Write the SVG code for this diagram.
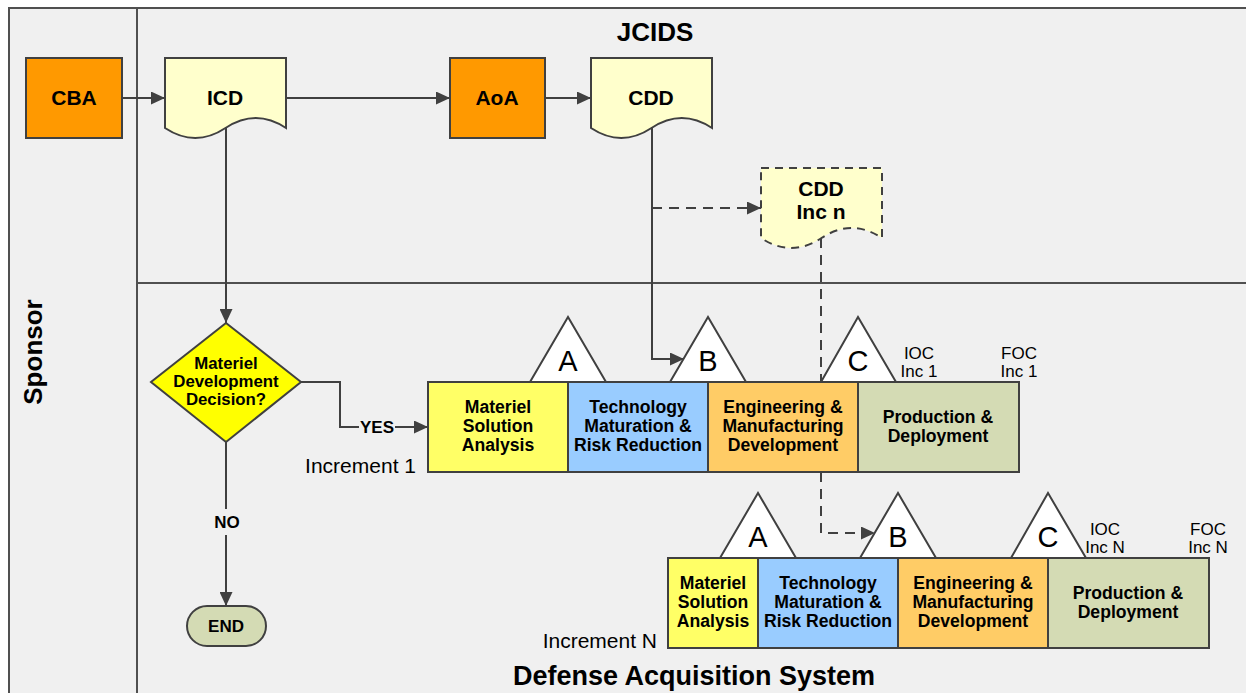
<svg xmlns="http://www.w3.org/2000/svg" width="1246" height="693" viewBox="0 0 1246 693">
  <style>
    .lbl { font-family: "Liberation Sans", Arial, sans-serif; fill: #000; }
    .b { font-weight: bold; }
    .node { font-size: 21px; }
    .phase { font-size: 17.6px; }
    .dec { font-size: 16.8px; }
    .small { font-size: 17px; }
    .ms { font-size: 29px; }
    .title { font-size: 26px; }
    .big { font-size: 27px; }
    .inc { font-size: 21px; }
    .shape { stroke: #404040; stroke-width: 2; }
    .conn { fill: none; stroke: #404040; stroke-width: 2; }
    .dash { stroke-dasharray: 10 7; }
    .lane { fill: none; stroke: #505050; stroke-width: 2; }
  </style>
  <defs>
    <marker id="arrow" viewBox="0 0 14 13" refX="14" refY="6.5" markerWidth="14" markerHeight="13" markerUnits="userSpaceOnUse" orient="auto">
      <path d="M0,0 L14,6.5 L0,13 z" fill="#404040"/>
    </marker>
  </defs>

  <!-- page and swimlanes -->
  <rect x="0" y="0" width="1246" height="693" fill="#ffffff"/>
  <rect x="9" y="8" width="1250" height="700" fill="#f0f0f0"/>
  <g id="lanes">
    <path class="lane" d="M9,700 V8 H1250"/>
    <path class="lane" d="M137,8 V700"/>
    <path class="lane" d="M137,283 H1250"/>
    <text class="lbl b title" x="655" y="41" text-anchor="middle">JCIDS</text>
    <text class="lbl b big" x="694" y="685" text-anchor="middle">Defense Acquisition System</text>
    <text class="lbl b title" transform="translate(42,352) rotate(-90)" text-anchor="middle">Sponsor</text>
  </g>

  <!-- connectors -->
  <g id="connectors">
    <path class="conn" d="M122,98 H165" marker-end="url(#arrow)"/>
    <path class="conn" d="M286,98 H450" marker-end="url(#arrow)"/>
    <path class="conn" d="M545,98 H591" marker-end="url(#arrow)"/>
    <path class="conn" d="M226,128 V323" marker-end="url(#arrow)"/>
    <path class="conn" d="M652,128 V359 H684" marker-end="url(#arrow)"/>
    <path class="conn dash" d="M652,208 H761" marker-end="url(#arrow)"/>
    <path class="conn dash" d="M821,238 V382"/>
    <path class="conn dash" d="M821,472 V533 H875" marker-end="url(#arrow)"/>
    <path class="conn" d="M301,382 H340 V427 H359"/>
    <path class="conn" d="M395,427 H428" marker-end="url(#arrow)"/>
    <text class="lbl b small" x="377" y="433" text-anchor="middle">YES</text>
    <path class="conn" d="M226,442 V509"/>
    <path class="conn" d="M226,535 V606" marker-end="url(#arrow)"/>
    <text class="lbl b small" x="227" y="528" text-anchor="middle">NO</text>
  </g>

  <!-- JCIDS products -->
  <g id="cba">
    <rect class="shape" x="26" y="58" width="96" height="80" fill="#ff9900"/>
    <text class="lbl b node" x="74" y="105" text-anchor="middle">CBA</text>
  </g>
  <g id="icd">
    <path class="shape" d="M165,58 h121 v70 q-30.25,-20 -60.5,0 t-60.5,0 z" fill="#ffffcc"/>
    <text class="lbl b node" x="225" y="105" text-anchor="middle">ICD</text>
  </g>
  <g id="aoa">
    <rect class="shape" x="450" y="58" width="95" height="80" fill="#ff9900"/>
    <text class="lbl b node" x="497" y="105" text-anchor="middle">AoA</text>
  </g>
  <g id="cdd">
    <path class="shape" d="M591,58 h121 v70 q-30.25,-20 -60.5,0 t-60.5,0 z" fill="#ffffcc"/>
    <text class="lbl b node" x="651" y="105" text-anchor="middle">CDD</text>
  </g>
  <g id="cdd-inc-n">
    <path class="shape" d="M761,168 h121 v70 q-30.25,-20 -60.5,0 t-60.5,0 z" fill="#ffffcc" stroke-dasharray="8 6"/>
    <text class="lbl b node" x="821" y="196" text-anchor="middle">CDD</text>
    <text class="lbl b node" x="821" y="219" text-anchor="middle">Inc n</text>
  </g>

  <!-- decision and terminator -->
  <g id="mdd">
    <path class="shape" d="M226,323 L301,382 L226,442 L151,382 z" fill="#ffff00"/>
    <text class="lbl b dec" x="226" y="369" text-anchor="middle">Materiel</text>
    <text class="lbl b dec" x="226" y="387" text-anchor="middle">Development</text>
    <text class="lbl b dec" x="226" y="405" text-anchor="middle">Decision?</text>
  </g>
  <g id="end">
    <rect class="shape" x="187" y="606" width="79" height="40" rx="20" fill="#d4dbb4"/>
    <text class="lbl b small" x="226" y="632" text-anchor="middle">END</text>
  </g>

  <!-- increment 1 -->
  <g id="increment-1">
    <path class="shape" d="M530,382 L568,317 L606,382 z" fill="#ffffff"/>
    <path class="shape" d="M670,382 L708,317 L746,382 z" fill="#ffffff"/>
    <path class="shape" d="M821,382 L858,317 L896,382 z" fill="#ffffff"/>
    <text class="lbl ms" x="568" y="371" text-anchor="middle">A</text>
    <text class="lbl ms" x="708" y="371" text-anchor="middle">B</text>
    <text class="lbl ms" x="858" y="371" text-anchor="middle">C</text>
    <rect class="shape" x="428" y="382" width="140" height="90" fill="#ffff66"/>
    <rect class="shape" x="568" y="382" width="140" height="90" fill="#99ccff"/>
    <rect class="shape" x="708" y="382" width="150" height="90" fill="#ffcc66"/>
    <rect class="shape" x="858" y="382" width="161" height="90" fill="#d4dbb4"/>
    <text class="lbl b phase" x="498" y="413" text-anchor="middle">Materiel</text>
    <text class="lbl b phase" x="498" y="432" text-anchor="middle">Solution</text>
    <text class="lbl b phase" x="498" y="451" text-anchor="middle">Analysis</text>
    <text class="lbl b phase" x="638" y="413" text-anchor="middle">Technology</text>
    <text class="lbl b phase" x="638" y="432" text-anchor="middle">Maturation &amp;</text>
    <text class="lbl b phase" x="638" y="451" text-anchor="middle">Risk Reduction</text>
    <text class="lbl b phase" x="783" y="413" text-anchor="middle">Engineering &amp;</text>
    <text class="lbl b phase" x="783" y="432" text-anchor="middle">Manufacturing</text>
    <text class="lbl b phase" x="783" y="451" text-anchor="middle">Development</text>
    <text class="lbl b phase" x="938" y="423" text-anchor="middle">Production &amp;</text>
    <text class="lbl b phase" x="938" y="442" text-anchor="middle">Deployment</text>
    <text class="lbl small" x="919" y="359" text-anchor="middle">IOC</text>
    <text class="lbl small" x="919" y="377" text-anchor="middle">Inc 1</text>
    <text class="lbl small" x="1019" y="359" text-anchor="middle">FOC</text>
    <text class="lbl small" x="1019" y="377" text-anchor="middle">Inc 1</text>
    <text class="lbl inc" x="416" y="473" text-anchor="end">Increment 1</text>
  </g>

  <!-- increment N -->
  <g id="increment-n">
    <path class="shape" d="M720,558 L758,493 L796,558 z" fill="#ffffff"/>
    <path class="shape" d="M860,558 L898,493 L936,558 z" fill="#ffffff"/>
    <path class="shape" d="M1011,558 L1048,493 L1086,558 z" fill="#ffffff"/>
    <text class="lbl ms" x="758" y="547" text-anchor="middle">A</text>
    <text class="lbl ms" x="898" y="547" text-anchor="middle">B</text>
    <text class="lbl ms" x="1048" y="547" text-anchor="middle">C</text>
    <rect class="shape" x="668" y="558" width="90" height="90" fill="#ffff66"/>
    <rect class="shape" x="758" y="558" width="140" height="90" fill="#99ccff"/>
    <rect class="shape" x="898" y="558" width="150" height="90" fill="#ffcc66"/>
    <rect class="shape" x="1048" y="558" width="161" height="90" fill="#d4dbb4"/>
    <text class="lbl b phase" x="713" y="589" text-anchor="middle">Materiel</text>
    <text class="lbl b phase" x="713" y="608" text-anchor="middle">Solution</text>
    <text class="lbl b phase" x="713" y="627" text-anchor="middle">Analysis</text>
    <text class="lbl b phase" x="828" y="589" text-anchor="middle">Technology</text>
    <text class="lbl b phase" x="828" y="608" text-anchor="middle">Maturation &amp;</text>
    <text class="lbl b phase" x="828" y="627" text-anchor="middle">Risk Reduction</text>
    <text class="lbl b phase" x="973" y="589" text-anchor="middle">Engineering &amp;</text>
    <text class="lbl b phase" x="973" y="608" text-anchor="middle">Manufacturing</text>
    <text class="lbl b phase" x="973" y="627" text-anchor="middle">Development</text>
    <text class="lbl b phase" x="1128" y="599" text-anchor="middle">Production &amp;</text>
    <text class="lbl b phase" x="1128" y="618" text-anchor="middle">Deployment</text>
    <text class="lbl small" x="1105" y="535" text-anchor="middle">IOC</text>
    <text class="lbl small" x="1105" y="553" text-anchor="middle">Inc N</text>
    <text class="lbl small" x="1208" y="535" text-anchor="middle">FOC</text>
    <text class="lbl small" x="1208" y="553" text-anchor="middle">Inc N</text>
    <text class="lbl inc" x="657" y="648" text-anchor="end">Increment N</text>
  </g>
</svg>
